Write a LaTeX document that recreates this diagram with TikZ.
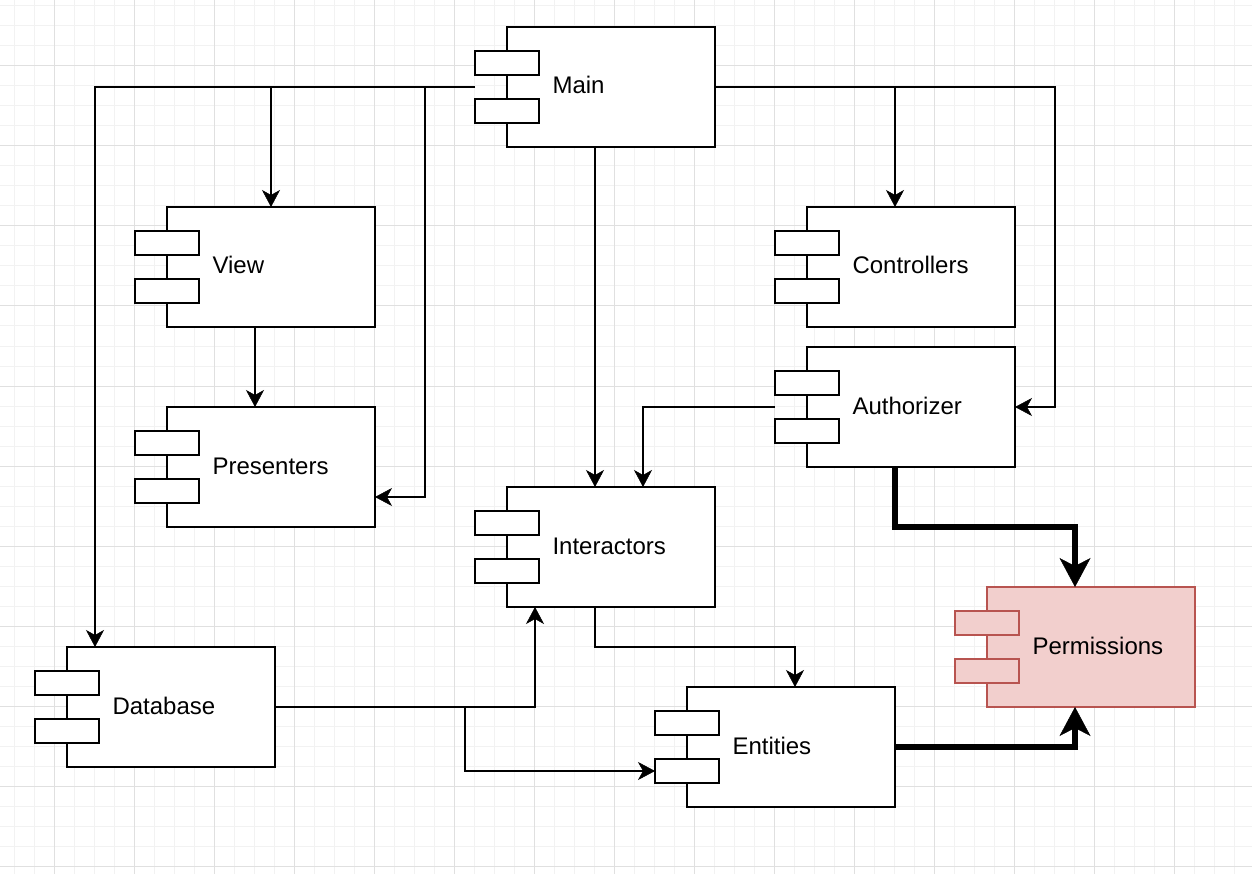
\documentclass[tikz,border=0pt]{standalone}
\usepackage{fontspec}
\setmainfont{Liberation Sans}
\usetikzlibrary{arrows.meta,calc}

\definecolor{gridminor}{HTML}{F2F2F2}
\definecolor{gridmajor}{HTML}{E0E0E0}
\definecolor{permfill}{HTML}{F2CFCD}
\definecolor{permdraw}{HTML}{B85450}

\tikzset{
  outerbox/.style={minimum width=240pt, minimum height=120pt, inner sep=0pt, outer sep=0pt, draw=none},
  compbody/.style 2 args={draw=#1, fill=#2, line width=2pt, minimum width=208pt, minimum height=120pt, inner sep=0pt, outer sep=0pt},
  comptab/.style 2 args={draw=#1, fill=#2, line width=2pt, minimum width=64pt, minimum height=24pt, inner sep=0pt, outer sep=0pt},
  complabel/.style={inner sep=0pt, outer sep=0pt, font=\fontsize{24}{28}\selectfont},
  link/.style={draw=black, line width=2pt, -{Stealth[length=17pt, width=18pt, inset=5pt, line width=0.5pt]}},
  heavylink/.style={draw=black, line width=6pt, -{Stealth[length=29pt, width=31pt, inset=8pt, line width=0.5pt]}},
}

% component shape: name, left x, top y, label, stroke, fill
\newcommand\umlcomp[6]{%
  \node[outerbox] (#1) at (#2+120, #3+60) {};
  \node[compbody={#5}{#6}, anchor=north east] (#1-body) at (#1.north east) {};
  \node[comptab={#5}{#6}, anchor=north west] (#1-tabA) at ($(#1.north west)+(0,24)$) {};
  \node[comptab={#5}{#6}, anchor=north west] (#1-tabB) at ($(#1.north west)+(0,72)$) {};
  \node[complabel, anchor=base west] (#1-label) at ($(#1.west)+(77.5,7)$) {#4};
}

\begin{document}
\begin{tikzpicture}[x=1pt, y=-1pt]
  \useasboundingbox (0,0) rectangle (1252,874);
  \fill[white] (0,0) rectangle (1252,874);

  % background grid
  \foreach \x in {14,34,...,1252} \draw[gridminor, line width=1pt] (\x,0) -- (\x,874);
  \foreach \y in {6,26,...,874} \draw[gridminor, line width=1pt] (0,\y) -- (1252,\y);
  \foreach \x in {54,134,...,1252} \draw[gridmajor, line width=1pt] (\x,0) -- (\x,874);
  \foreach \y in {66,146,...,874} \draw[gridmajor, line width=1pt] (0,\y) -- (1252,\y);

  % components
  \umlcomp{Main}{475}{27}{Main}{black}{white}
  \umlcomp{View}{135}{207}{View}{black}{white}
  \umlcomp{Presenters}{135}{407}{Presenters}{black}{white}
  \umlcomp{Controllers}{775}{207}{Controllers}{black}{white}
  \umlcomp{Authorizer}{775}{347}{Authorizer}{black}{white}
  \umlcomp{Interactors}{475}{487}{Interactors}{black}{white}
  \umlcomp{Database}{35}{647}{Database}{black}{white}
  \umlcomp{Entities}{655}{687}{Entities}{black}{white}
  \umlcomp{Permissions}{955}{587}{Permissions}{permdraw}{permfill}

  % dependencies
  \draw[link] (Main.west) -| ($(Database.north west)+(60,0)$);
  \draw[link] (Main.west -| View-body.north) -- (View-body.north);
  \draw[link] ($(Main.west)+(-50,0)$) |- ($(Presenters.east)+(0,30)$);
  \draw[link] (Main.south) -- (Interactors.north);
  \draw[link] (Main.east) -| (Controllers.north);
  \draw[link] (Main.east) -| ($(Authorizer.east)+(40,0)$) -- (Authorizer.east);
  \draw[link] (View.south) -- (Presenters.north);
  \draw[link] (Authorizer.west) -| ($(Interactors.north)+(48,0)$);
  \draw[link] (Interactors.south) |- ($(Entities.north)+(20,-40)$) -- ($(Entities.north)+(20,0)$);
  \draw[link] (Database.east) -| ($(Interactors.south)+(-60,0)$);
  \draw[link] ($(Database.east)+(190,0)$) |- ($(Entities.west)+(0,24)$);
  \draw[heavylink] (Authorizer.south) |- ($(Permissions.north)+(0,-60)$) -- (Permissions.north);
  \draw[heavylink] (Entities.east) -| (Permissions.south);
\end{tikzpicture}
\end{document}
